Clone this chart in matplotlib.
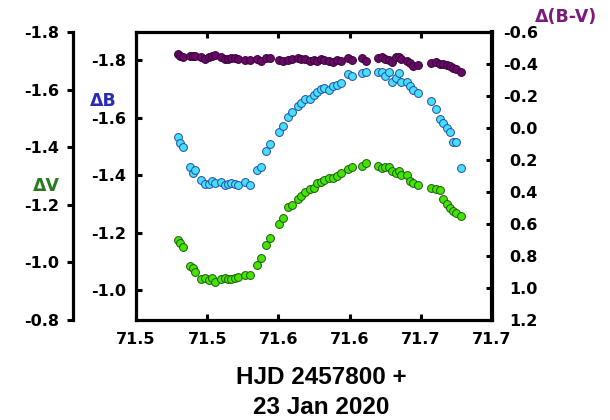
import matplotlib
matplotlib.use("Agg")
import matplotlib.pyplot as plt

# ---------------- data ----------------
hjd = [71.4792, 71.4810, 71.4827, 71.4880, 71.4901, 71.4915, 71.4958, 71.4986,
       71.5011, 71.5035, 71.5056, 71.5095, 71.5123, 71.5144, 71.5169, 71.5197,
       71.5218, 71.5268, 71.5303, 71.5350, 71.5377, 71.5411, 71.5444, 71.5505,
       71.5530, 71.5569, 71.5599, 71.5636, 71.5662, 71.5690, 71.5723, 71.5749,
       71.5773, 71.5796, 71.5823, 71.5856, 71.5884, 71.5913, 71.5939, 71.5989,
       71.6020, 71.6085, 71.6116, 71.6201, 71.6225, 71.6250, 71.6278, 71.6299,
       71.6324, 71.6349, 71.6363, 71.6406, 71.6423, 71.6447, 71.6479, 71.6570,
       71.6609, 71.6637, 71.6655, 71.6687, 71.6708, 71.6729, 71.6746, 71.6782]

delta_b = [-1.531, -1.513, -1.496, -1.427, -1.408, -1.417, -1.383, -1.369,
           -1.367, -1.380, -1.372, -1.377, -1.365, -1.369, -1.372, -1.369,
           -1.365, -1.377, -1.365, -1.419, -1.429, -1.485, -1.508, -1.551,
           -1.570, -1.602, -1.619, -1.640, -1.650, -1.663, -1.663, -1.680,
           -1.689, -1.698, -1.701, -1.697, -1.708, -1.713, -1.719, -1.753,
           -1.746, -1.756, -1.757, -1.758, -1.759, -1.744, -1.758, -1.722,
           -1.736, -1.756, -1.723, -1.725, -1.710, -1.696, -1.684, -1.658,
           -1.629, -1.595, -1.580, -1.562, -1.551, -1.516, -1.516, -1.423]

delta_v = [-1.078, -1.066, -1.053, -0.989, -0.981, -0.968, -0.942, -0.945,
           -0.939, -0.945, -0.933, -0.941, -0.945, -0.941, -0.944, -0.945,
           -0.949, -0.956, -0.956, -0.991, -1.016, -1.060, -1.084, -1.133,
           -1.154, -1.191, -1.199, -1.219, -1.232, -1.245, -1.254, -1.260,
           -1.274, -1.279, -1.286, -1.292, -1.292, -1.300, -1.310, -1.325,
           -1.331, -1.335, -1.344, -1.335, -1.327, -1.330, -1.330, -1.318,
           -1.311, -1.318, -1.305, -1.302, -1.284, -1.275, -1.269, -1.257,
           -1.254, -1.251, -1.219, -1.203, -1.188, -1.178, -1.171, -1.161]

delta_bv = [-0.463, -0.450, -0.442, -0.450, -0.450, -0.447, -0.446, -0.433,
            -0.446, -0.450, -0.454, -0.442, -0.429, -0.429, -0.436, -0.436,
            -0.429, -0.422, -0.422, -0.429, -0.421, -0.436, -0.438, -0.425,
            -0.421, -0.425, -0.429, -0.436, -0.429, -0.429, -0.421, -0.425,
            -0.421, -0.434, -0.425, -0.421, -0.414, -0.422, -0.421, -0.438,
            -0.425, -0.436, -0.421, -0.436, -0.442, -0.429, -0.425, -0.414,
            -0.444, -0.446, -0.429, -0.421, -0.408, -0.386, -0.394, -0.404,
            -0.414, -0.400, -0.397, -0.394, -0.386, -0.378, -0.367, -0.352]

x_ticks = [71.45, 71.50, 71.55, 71.60, 71.65, 71.70]
x_ticklabels = ["71.5", "71.5", "71.6", "71.6", "71.7", "71.7"]
b_ticks = [-1.8, -1.6, -1.4, -1.2, -1.0]
b_ticklabels = ["-1.8", "-1.6", "-1.4", "-1.2", "-1.0"]
v_ticks = [-1.8, -1.6, -1.4, -1.2, -1.0, -0.8]
v_ticklabels = ["-1.8", "-1.6", "-1.4", "-1.2", "-1.0", "-0.8"]
bv_ticks = [-0.6, -0.4, -0.2, 0.0, 0.2, 0.4, 0.6, 0.8, 1.0, 1.2]
bv_ticklabels = ["-0.6", "-0.4", "-0.2", "0.0", "0.2", "0.4", "0.6", "0.8", "1.0", "1.2"]

# ---------------- figure ----------------
W, H = 610, 420
fig = plt.figure(figsize=(W / 100, H / 100), dpi=100)
fig.patch.set_facecolor("white")

L, R, T, B = 136, 492, 32, 320
ax = fig.add_axes([L / W, 1 - B / H, (R - L) / W, (B - T) / H])

tick_font = dict(family="DejaVu Sans", weight="bold", size=11.5)
lw_frame = 2.3

# main axes: delta B on inner left axis
ax.set_xlim(71.45, 71.70)
ax.set_ylim(-0.8957, -1.8974)
ax.set_xticks(x_ticks)
ax.set_xticklabels(x_ticklabels, fontdict=tick_font)
ax.set_yticks(b_ticks)
ax.set_yticklabels(b_ticklabels, fontdict=tick_font)
ax.tick_params(axis="x", direction="in", top=True, length=4, width=2.2, pad=9)
ax.tick_params(axis="y", direction="in", left=True, right=False, length=4, width=2.2, pad=7)
for s in ["left", "top", "bottom"]:
    ax.spines[s].set_linewidth(lw_frame)
ax.spines["right"].set_visible(False)

# outer delta V axis
ax_v = ax.twinx()
ax_v.set_ylim(-0.8, -1.8)
ax_v.yaxis.set_ticks_position("left")
ax_v.yaxis.set_label_position("left")
ax_v.spines["left"].set_position(("axes", (73 - L) / (R - L)))
for s in ["right", "top", "bottom"]:
    ax_v.spines[s].set_visible(False)
ax_v.spines["left"].set_linewidth(lw_frame)
ax_v.set_yticks(v_ticks)
ax_v.set_yticklabels(v_ticklabels, fontdict=tick_font)
ax_v.tick_params(axis="y", direction="out", length=4, width=2.2, pad=6)

# right delta(B-V) axis
ax_bv = ax.twinx()
ax_bv.set_ylim(1.2, -0.6)
for s in ["left", "top", "bottom"]:
    ax_bv.spines[s].set_visible(False)
ax_bv.spines["right"].set_linewidth(3.0)
ax_bv.set_yticks(bv_ticks)
ax_bv.set_yticklabels(bv_ticklabels, fontdict=tick_font, ha="right")
ax_bv.tick_params(axis="y", direction="in", length=4, width=2.2, pad=33)

# data
ms = 32
ax_bv.scatter(hjd, delta_bv, s=ms, color="#660a66", edgecolors="#3a003a",
              linewidths=0.7, zorder=3)
ax.scatter(hjd, delta_b, s=ms, color="#44e0f8", edgecolors="#2a4aa8",
           linewidths=0.7, zorder=3)
ax_v.scatter(hjd, delta_v, s=ms, color="#44e400", edgecolors="#1f5a10",
             linewidths=0.7, zorder=3)

# labels
lab_font = dict(family="DejaVu Sans", weight="bold", size=12.5)
fig.text(103 / W, 1 - 101 / H, "ΔB", color="#2a2ab8", ha="center", va="center", **lab_font)
fig.text(46 / W, 1 - 186 / H, "ΔV", color="#2a7a22", ha="center", va="center", **lab_font)
fig.text(566 / W, 1 - 17 / H, "Δ(B-V)", color="#7a1a7a", ha="center", va="center", **lab_font)

xl_font = dict(family="Liberation Sans", weight="bold", size=17.5)
fig.text(321 / W, 1 - 384.5 / H, "HJD 2457800 +", ha="center", va="baseline", **xl_font)
fig.text(321 / W, 1 - 414 / H, "23 Jan 2020", ha="center", va="baseline", **xl_font)

fig.savefig("out.png", dpi=100)
